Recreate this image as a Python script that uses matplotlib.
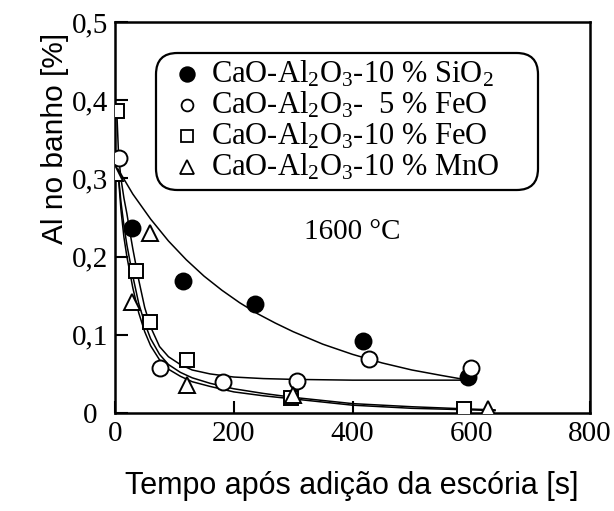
import matplotlib
matplotlib.use("Agg")
import matplotlib.pyplot as plt
from matplotlib.patches import FancyBboxPatch

plt.rcParams['mathtext.fontset'] = 'custom'
plt.rcParams['mathtext.rm'] = 'Liberation Serif'
plt.rcParams['mathtext.it'] = 'Liberation Serif'
plt.rcParams['mathtext.bf'] = 'Liberation Serif'

# ---- data ----
labels = ["CaO-Al$_2$O$_3$-10 % SiO$_2$",
          "CaO-Al$_2$O$_3$-  5 % FeO",
          "CaO-Al$_2$O$_3$-10 % FeO",
          "CaO-Al$_2$O$_3$-10 % MnO"]

t_sio2 = [28, 114, 236, 418, 595]
al_sio2 = [0.236, 0.169, 0.140, 0.092, 0.046]

t_feo5 = [6, 75, 182, 306, 427, 600]
al_feo5 = [0.326, 0.057, 0.040, 0.041, 0.069, 0.058]

t_feo10 = [3, 36, 59, 122, 296, 587]
al_feo10 = [0.386, 0.181, 0.117, 0.068, 0.019, 0.005]

t_mno = [0, 28, 59, 122, 300, 628]
al_mno = [0.307, 0.142, 0.230, 0.036, 0.023, 0.005]

# fitted curves
curve_a_t = [5, 30, 60, 90, 120, 150, 180, 210, 240, 270, 300, 350, 400, 450, 500, 550, 595]
curve_a_al = [0.312, 0.28, 0.248, 0.22, 0.196, 0.175, 0.157, 0.141, 0.127, 0.115, 0.104,
              0.088, 0.075, 0.064, 0.055, 0.048, 0.042]

curve_b_t = [3, 6, 10, 15, 20, 25, 30, 40, 50, 60, 75, 90, 110, 130, 160, 200, 250, 300, 400, 500, 595]
curve_b_al = [0.386, 0.33, 0.30, 0.275, 0.255, 0.232, 0.210, 0.170, 0.135, 0.110, 0.085,
              0.072, 0.062, 0.055, 0.050, 0.046, 0.044, 0.043, 0.042, 0.042, 0.042]

curve_c_t = [5, 10, 15, 20, 30, 40, 50, 60, 75, 90, 110, 130, 160, 200, 250, 300, 400, 500, 600, 640]
curve_c_al = [0.31, 0.27, 0.24, 0.215, 0.175, 0.14, 0.115, 0.095, 0.075, 0.062, 0.052,
              0.045, 0.038, 0.031, 0.025, 0.020, 0.012, 0.008, 0.005, 0.004]

curve_d_t = [5, 10, 15, 20, 30, 40, 50, 60, 75, 90, 110, 130, 160, 200, 250, 300, 400, 500, 600, 640]
curve_d_al = [0.31, 0.26, 0.225, 0.20, 0.16, 0.128, 0.104, 0.086, 0.068, 0.056, 0.047,
              0.040, 0.034, 0.027, 0.022, 0.018, 0.010, 0.006, 0.004, 0.003]

xticks = [0, 200, 400, 600, 800]
yticks = [0, 0.1, 0.2, 0.3, 0.4, 0.5]
yticklabels = ["0", "0,1", "0,2", "0,3", "0,4", "0,5"]

serif = "Liberation Serif"
sans = "Liberation Sans"

fig = plt.figure(figsize=(6.14, 5.11), dpi=100)
ax = fig.add_axes([115/614, 1 - 413/511, 475/614, 391/511])

lw = 1.1
for tt, yy in [(curve_a_t, curve_a_al), (curve_b_t, curve_b_al),
               (curve_c_t, curve_c_al), (curve_d_t, curve_d_al)]:
    ax.plot(tt, yy, color='black', lw=lw, zorder=2)

ms = 11.5
mew = 1.4
ax.plot(t_sio2, al_sio2, 'o', ms=ms, mfc='black', mec='black', mew=mew, zorder=3)
ax.plot(t_feo5, al_feo5, 'o', ms=ms, mfc='white', mec='black', mew=mew, zorder=4)
ax.plot(t_feo10, al_feo10, 's', ms=ms - 1, mfc='white', mec='black', mew=mew, zorder=4)
ax.plot(t_mno, al_mno, '^', ms=ms, mfc='white', mec='black', mew=mew, zorder=5)

ax.set_xlim(0, 800)
ax.set_ylim(0, 0.5)
ax.set_xticks(xticks)
ax.set_xticklabels([str(v) for v in xticks], fontfamily=serif, fontsize=21)
ax.set_yticks(yticks)
ax.set_yticklabels(yticklabels, fontfamily=serif, fontsize=21)
for lab in ax.get_yticklabels():
    lab.set_ha('center')
ax.tick_params(axis='both', direction='in', length=9, width=1.5, top=False, right=False)
ax.tick_params(axis='y', pad=18)
ax.tick_params(axis='x', pad=6)
for s in ax.spines.values():
    s.set_linewidth(1.8)

# legend box (manual, to match the rounded frame)
W, H = 475.0, 391.0
def ax_xy(px, py):
    return ((px - 115) / W, (413 - py) / H)

x0, y0 = ax_xy(156, 190)
x1, y1 = ax_xy(538, 53)
box = FancyBboxPatch((x0, y0), x1 - x0, y1 - y0,
                     boxstyle="round,pad=0,rounding_size=0.045",
                     mutation_aspect=W / H,
                     transform=ax.transAxes, fc='white', ec='black', lw=1.6, zorder=6)
ax.add_patch(box)

rows_py = [74, 105, 136, 167]
leg_markers = [('o', 'black', 10.5), ('o', 'white', 8.5), ('s', 'white', 9), ('^', 'white', 10)]
for (mk, fc, s), lab, py in zip(leg_markers, labels, rows_py):
    mx, my = ax_xy(187, py)
    ax.plot([mx], [my], mk, ms=s, mfc=fc, mec='black', mew=1.3,
            transform=ax.transAxes, zorder=7, clip_on=False)
    tx, ty = ax_xy(211, py)
    ax.text(tx, ty, lab, transform=ax.transAxes, fontfamily=serif, fontsize=22,
            ha='left', va='center', zorder=7)

tx, ty = ax_xy(352, 232)
ax.text(tx, ty, "1600 °C", transform=ax.transAxes, fontfamily=serif, fontsize=21,
        ha='center', va='center')

fig.text(352/614, 1 - 486/511, "Tempo após adição da escória [s]", fontfamily=sans,
         fontsize=22, ha='center', va='center')
fig.text(55/614, 1 - 138/511, "Al no banho [%]", fontfamily=sans, fontsize=21.5,
         ha='center', va='center', rotation=90)

fig.savefig("out.png", dpi=100)
